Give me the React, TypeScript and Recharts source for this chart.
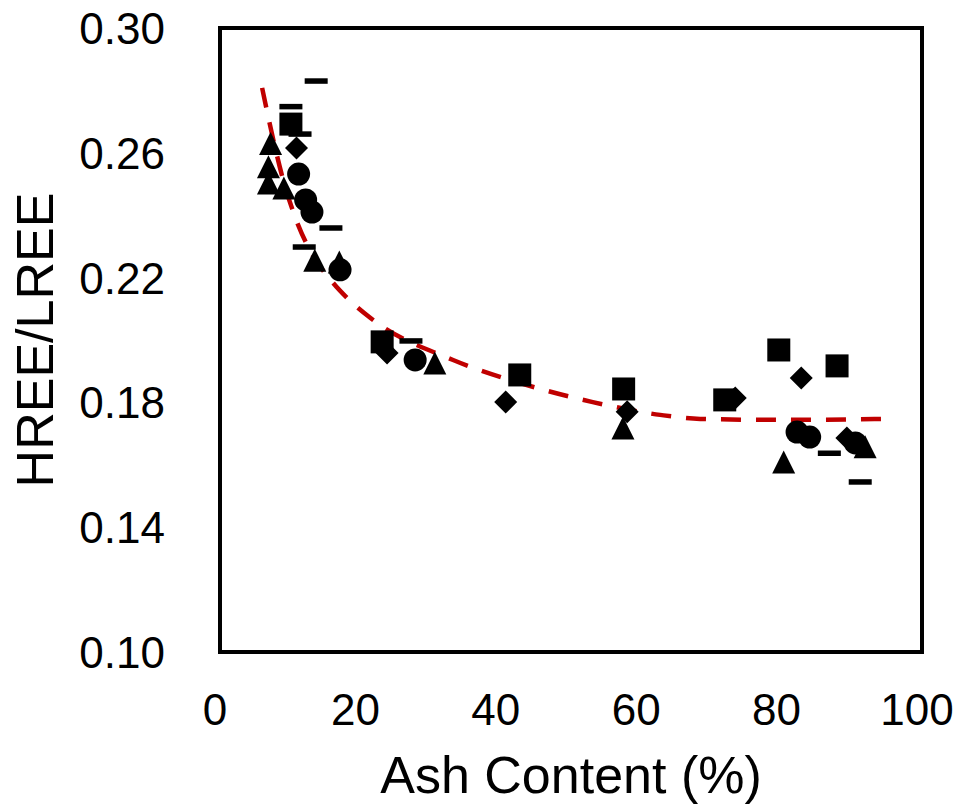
import React from 'react';
import { ComposedChart, Scatter, Line, XAxis, YAxis, ReferenceArea, Label } from 'recharts';

const FONT = '"Liberation Sans", Arial, sans-serif';

const xTicks = [0, 20, 40, 60, 80, 100];
const yTicks = [0.1, 0.14, 0.18, 0.22, 0.26, 0.3];

// markers (ash %, HREE/LREE)
const triangles = [
  { x: 7.2, y: 0.263 }, { x: 6.9, y: 0.2555 }, { x: 6.9, y: 0.2503 }, { x: 9.1, y: 0.2487 },
  { x: 13.5, y: 0.2256 }, { x: 17.0, y: 0.225 }, { x: 30.6, y: 0.1926 }, { x: 57.4, y: 0.1718 },
  { x: 80.3, y: 0.1609 }, { x: 91.9, y: 0.1658 },
];
const squares = [
  { x: 10.1, y: 0.2692 }, { x: 23.1, y: 0.1994 }, { x: 42.7, y: 0.1888 }, { x: 57.5, y: 0.1843 },
  { x: 71.9, y: 0.1808 }, { x: 79.6, y: 0.1968 }, { x: 87.9, y: 0.1917 },
];
const diamonds = [
  { x: 10.9, y: 0.2615 }, { x: 23.8, y: 0.1958 }, { x: 40.7, y: 0.1801 }, { x: 58.0, y: 0.177 },
  { x: 73.4, y: 0.1814 }, { x: 82.8, y: 0.1878 }, { x: 89.3, y: 0.1686 },
];
const circles = [
  { x: 11.2, y: 0.2532 }, { x: 12.2, y: 0.2449 }, { x: 13.1, y: 0.241 }, { x: 17.1, y: 0.2225 },
  { x: 27.8, y: 0.1936 }, { x: 82.2, y: 0.1705 }, { x: 84.0, y: 0.1689 }, { x: 90.5, y: 0.167 },
];
const dashes = [
  { x: 13.7, y: 0.283 }, { x: 10.1, y: 0.2748 }, { x: 11.4, y: 0.266 }, { x: 15.8, y: 0.2359 },
  { x: 12.0, y: 0.2298 }, { x: 27.2, y: 0.1997 }, { x: 86.8, y: 0.1637 }, { x: 91.2, y: 0.1545 },
];

// red dashed trend curve, read at points along it
const trend = [
  { x: 6.0, y: 0.2808 }, { x: 7.7, y: 0.2631 }, { x: 9.0, y: 0.2513 }, { x: 10.7, y: 0.2394 },
  { x: 12.8, y: 0.2288 }, { x: 16.0, y: 0.2186 }, { x: 18.1, y: 0.2135 }, { x: 21.4, y: 0.2071 },
  { x: 33.2, y: 0.1936 }, { x: 42.3, y: 0.1865 }, { x: 53.1, y: 0.1801 }, { x: 62.7, y: 0.176 },
  { x: 68.4, y: 0.1747 }, { x: 79.8, y: 0.1744 }, { x: 94.6, y: 0.1747 },
];

const S = 11.5; // half marker size

const Square = ({ cx, cy }: any) => <rect x={cx - S} y={cy - S} width={S * 2} height={S * 2} fill="#000" />;
const Diamond = ({ cx, cy }: any) => (
  <polygon points={`${cx},${cy - S} ${cx + S},${cy} ${cx},${cy + S} ${cx - S},${cy}`} fill="#000" />
);
const Triangle = ({ cx, cy }: any) => (
  <polygon points={`${cx},${cy - S} ${cx + S},${cy + S} ${cx - S},${cy + S}`} fill="#000" />
);
const Circle = ({ cx, cy }: any) => <circle cx={cx} cy={cy} r={S} fill="#000" />;
const Dash = ({ cx, cy }: any) => <rect x={cx - S} y={cy - 2.75} width={S * 2} height={5.5} fill="#000" />;

const YTick = ({ y, payload }: any) => (
  <text x={165} y={y} dy={16} textAnchor="end" fontSize={44} fontFamily={FONT} fill="#000">
    {Number(payload.value).toFixed(2)}
  </text>
);

const XTick = ({ x, payload }: any) => (
  <text x={x - 5} y={725} textAnchor="middle" fontSize={44} fontFamily={FONT} fill="#000">
    {payload.value}
  </text>
);

export default function App() {
  return (
    <div style={{ position: 'absolute', left: 0, top: 0, width: 957, height: 804, background: '#fff' }}>
      <ComposedChart width={957} height={804} margin={{ top: 28, right: 35, bottom: 0, left: 0 }}>
        <XAxis
          dataKey="x"
          type="number"
          domain={[0, 100]}
          ticks={xTicks}
          height={152}
          axisLine={false}
          tickLine={false}
          tick={<XTick />}
          interval={0}
        >
          <Label
            content={() => (
              <text x={571} y={793} textAnchor="middle" fontSize={52} fontFamily={FONT} fill="#000">
                Ash Content (%)
              </text>
            )}
          />
        </XAxis>
        <YAxis
          dataKey="y"
          type="number"
          domain={[0.1, 0.3]}
          ticks={yTicks}
          width={220}
          axisLine={false}
          tickLine={false}
          tick={<YTick />}
          interval={0}
        >
          <Label
            content={() => (
              <text
                x={53}
                y={340}
                textAnchor="middle"
                fontSize={52}
                fontFamily={FONT}
                fill="#000"
                transform="rotate(-90, 53, 340)"
              >
                HREE/LREE
              </text>
            )}
          />
        </YAxis>
        <ReferenceArea x1={0} x2={100} y1={0.1} y2={0.3} fill="none" fillOpacity={0} stroke="#000" strokeWidth={4} ifOverflow="visible" />
        <Scatter data={squares} shape={Square} isAnimationActive={false} />
        <Scatter data={diamonds} shape={Diamond} isAnimationActive={false} />
        <Scatter data={circles} shape={Circle} isAnimationActive={false} />
        <Scatter data={triangles} shape={Triangle} isAnimationActive={false} />
        <Scatter data={dashes} shape={Dash} isAnimationActive={false} />
        <Line
          data={trend}
          dataKey="y"
          type="monotone"
          dot={false}
          stroke="#C00000"
          strokeWidth={4.5}
          strokeDasharray="20 15"
          isAnimationActive={false}
        />
      </ComposedChart>
    </div>
  );
}
